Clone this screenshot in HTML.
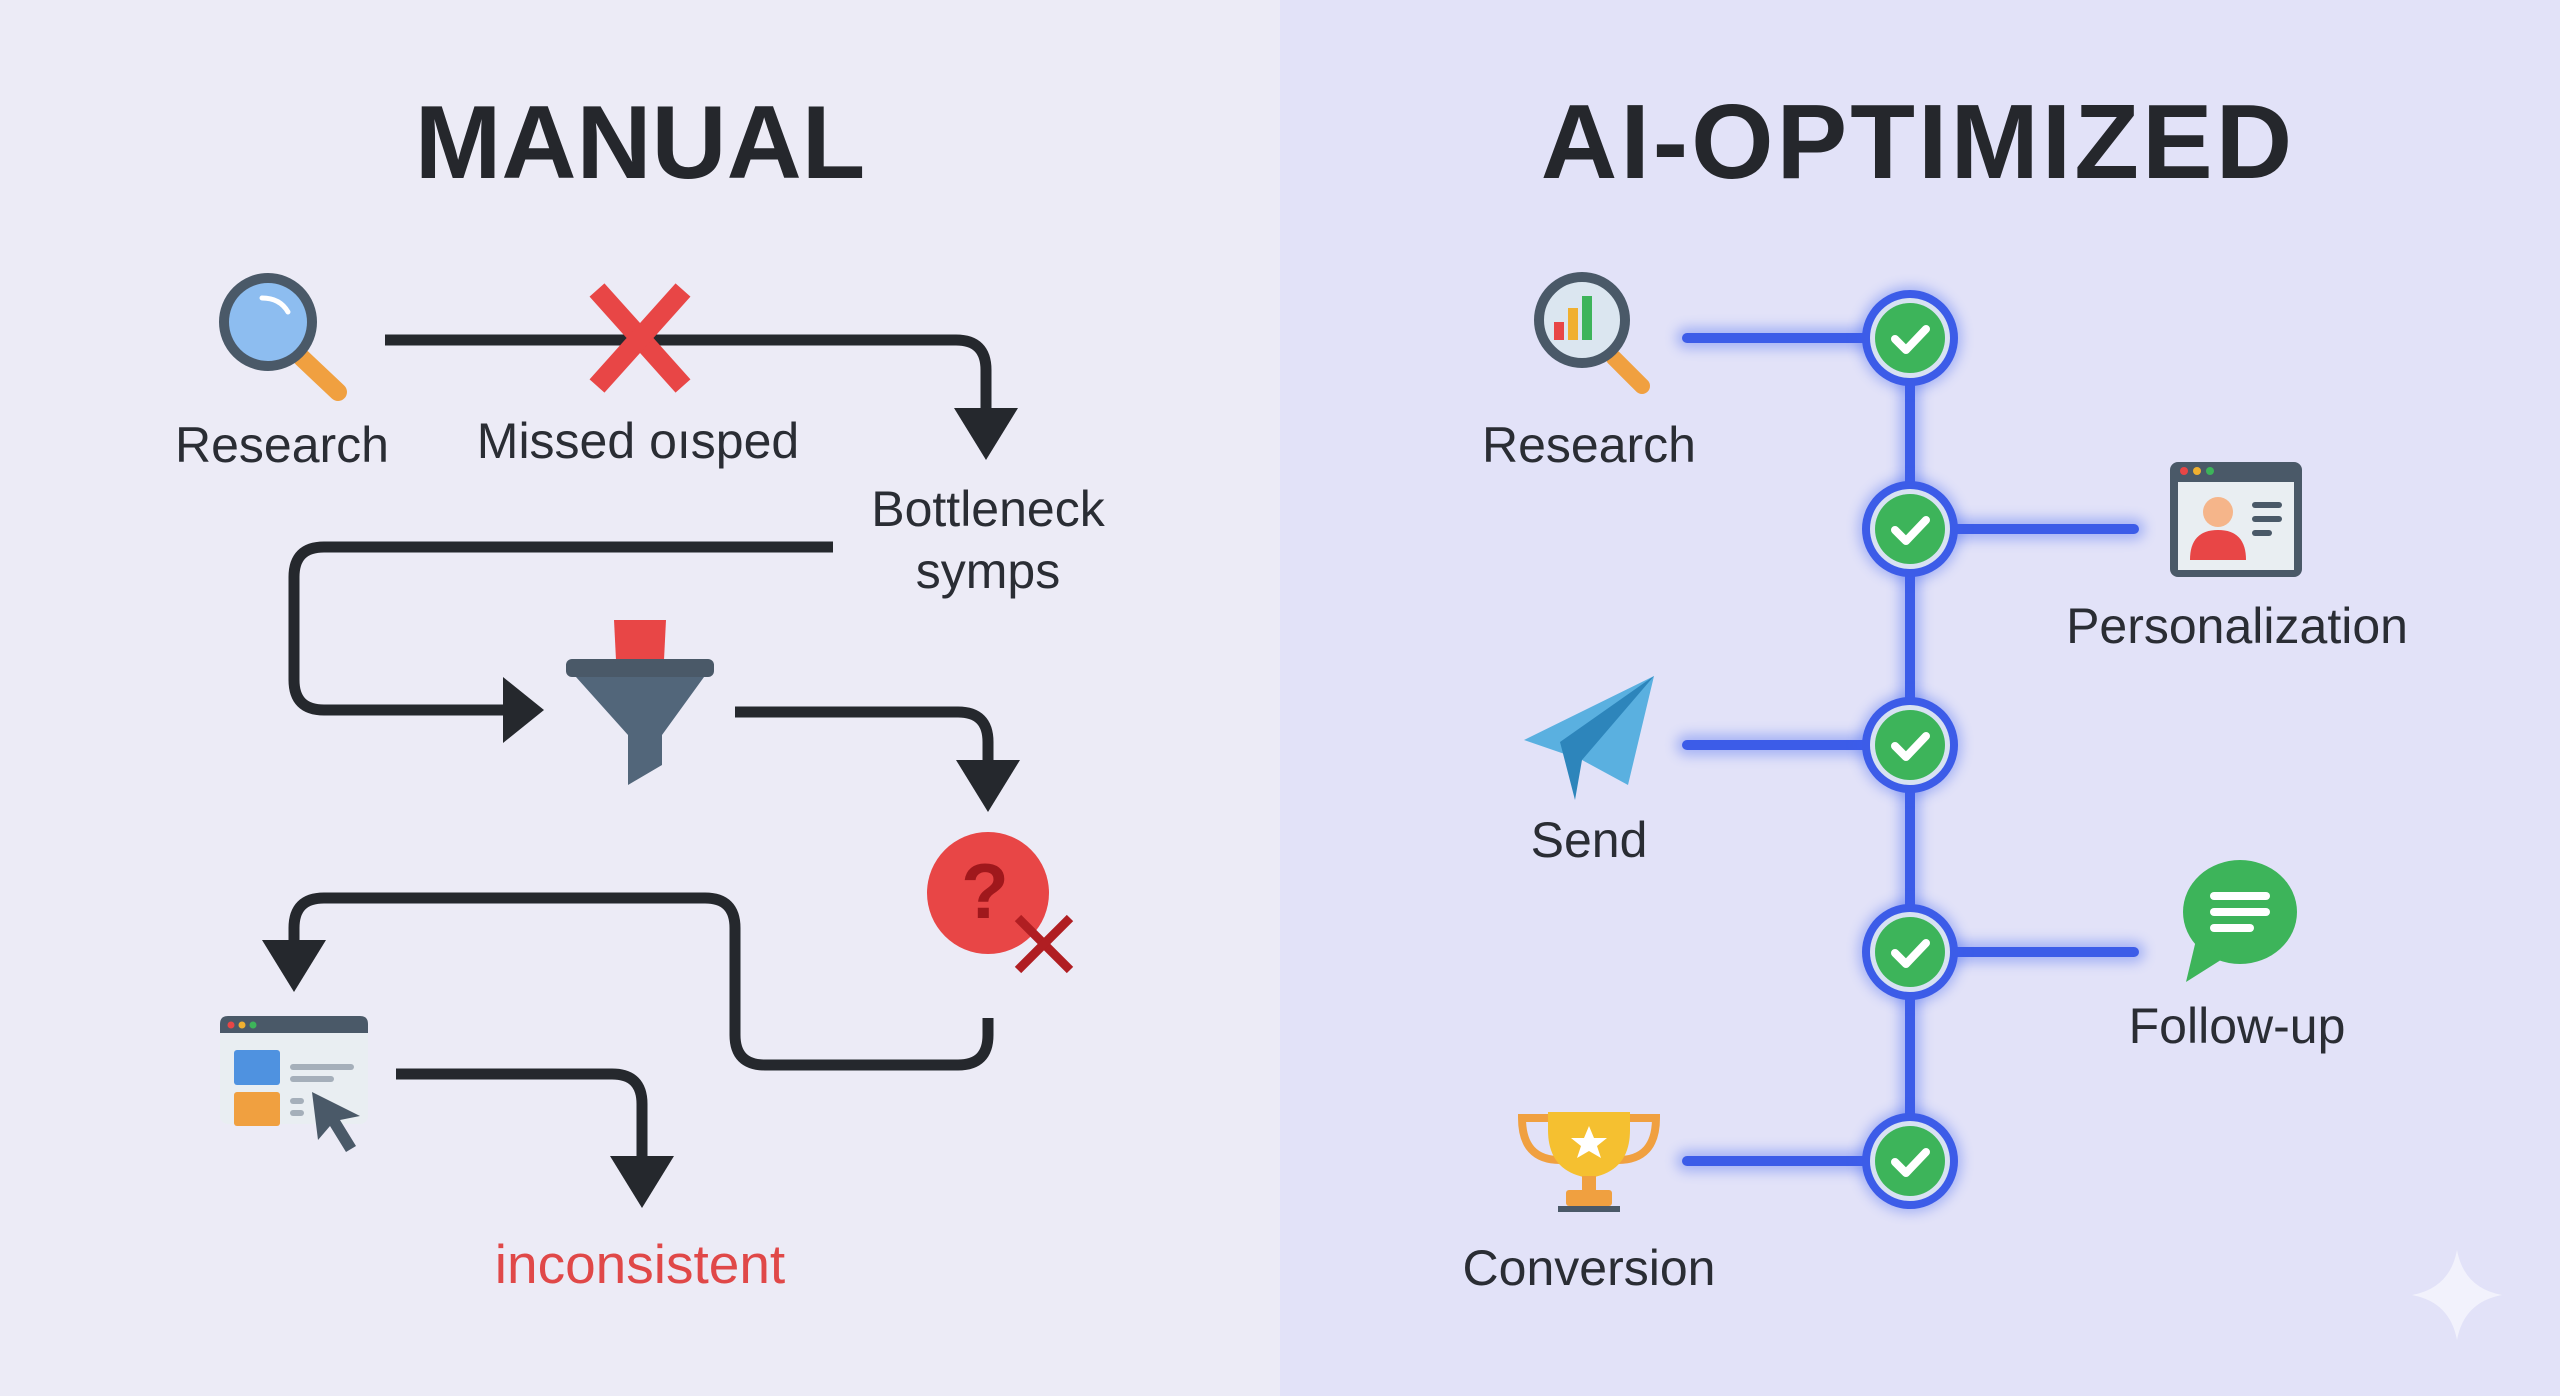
<!DOCTYPE html>
<html><head><meta charset="utf-8"><style>
html,body{margin:0;padding:0;width:2560px;height:1396px;overflow:hidden;background:#ecebf6}
svg{display:block}
text{font-family:"Liberation Sans",sans-serif}
</style></head><body>
<svg width="2560" height="1396" viewBox="0 0 2560 1396" xmlns="http://www.w3.org/2000/svg">
<defs>
<filter id="glow" x="-20%" y="-20%" width="140%" height="140%"><feGaussianBlur stdDeviation="6"/></filter>
<g id="arrD"><polygon points="-32,0 32,0 0,52" fill="#25282d"/></g>
<g id="chk">
 <circle r="52" fill="#3a5ff0" opacity="0.35" filter="url(#glow)"/>
 <circle r="48" fill="#3c5ce8"/>
 <circle r="40" fill="#d8e2f2"/>
 <circle r="35" fill="#3db45a"/>
 <polyline points="-15,1 -4,12 16,-9" fill="none" stroke="#fff" stroke-width="8" stroke-linecap="round" stroke-linejoin="round"/>
</g>
</defs>
<rect x="0" y="0" width="1280" height="1396" fill="#ecebf6"/>
<rect x="1280" y="0" width="1280" height="1396" fill="#e2e2f8"/>

<!-- titles -->
<text x="640" y="178" font-size="104" font-weight="bold" fill="#25272c" text-anchor="middle">MANUAL</text>
<text x="1918" y="178" font-size="106" font-weight="bold" fill="#25272c" text-anchor="middle" letter-spacing="3">AI-OPTIMIZED</text>

<!-- LEFT -->
<g stroke="#25282d" stroke-width="11" fill="none">
 <path d="M385 340 H956 Q986 340 986 370 V412"/>
 <path d="M833 547 H324 Q294 547 294 577 V680 Q294 710 324 710 H505"/>
 <path d="M735 712 H958 Q988 712 988 742 V760"/>
 <path d="M988 1018 V1035 Q988 1065 958 1065 H765 Q735 1065 735 1035 V928 Q735 898 705 898 H324 Q294 898 294 928 V942"/>
 <path d="M396 1074 H612 Q642 1074 642 1104 V1158"/>
</g>
<use href="#arrD" x="986" y="408"/>
<polygon points="503,677 544,710 503,743" fill="#25282d"/>
<use href="#arrD" x="988" y="760"/>
<use href="#arrD" x="294" y="940"/>
<use href="#arrD" x="642" y="1156"/>

<!-- magnifier -->
<line x1="302" y1="358" x2="338" y2="392" stroke="#f0a040" stroke-width="18" stroke-linecap="round"/>
<circle cx="268" cy="322" r="44" fill="#8dbdf0" stroke="#4a5968" stroke-width="10"/>
<path d="M262 298 Q280 298 288 312" stroke="#fff" stroke-width="5" fill="none" stroke-linecap="round"/>
<text x="282" y="462" font-size="50" fill="#2a2d34" text-anchor="middle">Research</text>

<!-- red X -->
<g stroke="#e84646" stroke-width="20">
 <line x1="597" y1="290" x2="683" y2="386"/><line x1="683" y1="290" x2="597" y2="386"/>
</g>
<text x="638" y="458" font-size="50" fill="#2a2d34" text-anchor="middle">Missed oısped</text>
<text x="988" y="526" font-size="50" fill="#2a2d34" text-anchor="middle">Bottleneck</text>
<text x="988" y="588" font-size="50" fill="#2a2d34" text-anchor="middle">symps</text>

<!-- funnel -->
<polygon points="614,620 666,620 664,660 616,660" fill="#e84646"/>
<rect x="566" y="659" width="148" height="18" rx="6" fill="#4a5968"/>
<polygon points="576,677 704,677 662,735 662,765 628,785 628,735" fill="#52667a"/>

<!-- question -->
<circle cx="988" cy="893" r="61" fill="#e84646"/>
<text x="985" y="918" font-size="78" font-weight="bold" fill="#a0181c" text-anchor="middle">?</text>
<g stroke="#b01e22" stroke-width="9"><line x1="1018" y1="918" x2="1070" y2="970"/><line x1="1070" y1="918" x2="1018" y2="970"/></g>

<!-- browser -->
<rect x="220" y="1016" width="148" height="108" rx="8" fill="#e9eef2"/>
<path d="M220 1024 Q220 1016 228 1016 H360 Q368 1016 368 1024 V1033 H220 Z" fill="#4a5968"/>
<circle cx="231" cy="1025" r="3.5" fill="#e84646"/><circle cx="242" cy="1025" r="3.5" fill="#f0b030"/><circle cx="253" cy="1025" r="3.5" fill="#3db45a"/>
<rect x="234" y="1050" width="46" height="35" rx="3" fill="#4f92e0"/>
<rect x="234" y="1092" width="46" height="34" rx="3" fill="#f0a040"/>
<rect x="290" y="1064" width="64" height="6" rx="3" fill="#a5afba"/>
<rect x="290" y="1076" width="44" height="6" rx="3" fill="#a5afba"/>
<rect x="290" y="1098" width="14" height="6" rx="3" fill="#a5afba"/>
<rect x="290" y="1110" width="14" height="6" rx="3" fill="#a5afba"/>
<polygon points="312,1092 360,1116 340,1120 356,1146 346,1152 330,1126 318,1140" fill="#4a5968"/>
<text x="640" y="1283" font-size="55" fill="#e04848" text-anchor="middle">inconsistent</text>

<!-- RIGHT -->
<g stroke="#3a5ff0" stroke-width="22" opacity="0.35" filter="url(#glow)" fill="none" stroke-linecap="round">
 <line x1="1910" y1="338" x2="1910" y2="1161"/>
 <line x1="1687" y1="338" x2="1910" y2="338"/><line x1="1910" y1="529" x2="2134" y2="529"/>
 <line x1="1687" y1="745" x2="1910" y2="745"/><line x1="1910" y1="952" x2="2134" y2="952"/>
 <line x1="1687" y1="1161" x2="1910" y2="1161"/>
</g>
<g stroke="#3c5ce8" stroke-width="10" fill="none" stroke-linecap="round">
 <line x1="1910" y1="338" x2="1910" y2="1161"/>
 <line x1="1687" y1="338" x2="1910" y2="338"/><line x1="1910" y1="529" x2="2134" y2="529"/>
 <line x1="1687" y1="745" x2="1910" y2="745"/><line x1="1910" y1="952" x2="2134" y2="952"/>
 <line x1="1687" y1="1161" x2="1910" y2="1161"/>
</g>
<use href="#chk" x="1910" y="338"/><use href="#chk" x="1910" y="529"/><use href="#chk" x="1910" y="745"/>
<use href="#chk" x="1910" y="952"/><use href="#chk" x="1910" y="1161"/>

<!-- research icon -->
<line x1="1614" y1="358" x2="1642" y2="386" stroke="#f0a040" stroke-width="16" stroke-linecap="round"/>
<circle cx="1582" cy="320" r="43" fill="#dbe6f0" stroke="#4a5968" stroke-width="10"/>
<rect x="1554" y="322" width="10" height="18" fill="#e84646"/>
<rect x="1568" y="308" width="10" height="32" fill="#f0b030"/>
<rect x="1582" y="296" width="10" height="44" fill="#3db45a"/>
<text x="1589" y="462" font-size="50" fill="#2a2d34" text-anchor="middle">Research</text>

<!-- personalization -->
<rect x="2170" y="462" width="132" height="115" rx="8" fill="#4a5968"/>
<rect x="2178" y="482" width="116" height="88" fill="#e9eef2"/>
<circle cx="2184" cy="471" r="4" fill="#e84646"/><circle cx="2197" cy="471" r="4" fill="#f0b030"/><circle cx="2210" cy="471" r="4" fill="#3db45a"/>
<circle cx="2218" cy="512" r="15" fill="#f5b58a"/>
<path d="M2190 560 Q2190 530 2218 530 Q2246 530 2246 560 Z" fill="#e84646"/>
<rect x="2252" y="502" width="30" height="6" rx="3" fill="#4a5968"/>
<rect x="2252" y="516" width="30" height="6" rx="3" fill="#4a5968"/>
<rect x="2252" y="530" width="20" height="6" rx="3" fill="#4a5968"/>
<text x="2237" y="643" font-size="50" fill="#2a2d34" text-anchor="middle">Personalization</text>

<!-- send -->
<polygon points="1524,740 1654,676 1628,785 1582,760" fill="#5ab0e0"/>
<polygon points="1560,742 1654,676 1582,760 1575,800" fill="#2d85bb"/>
<text x="1589" y="857" font-size="50" fill="#2a2d34" text-anchor="middle">Send</text>

<!-- follow-up -->
<ellipse cx="2240" cy="912" rx="57" ry="52" fill="#3db45a"/>
<polygon points="2196,940 2186,982 2224,958" fill="#3db45a"/>
<g stroke="#fff" stroke-width="8" stroke-linecap="round"><line x1="2214" y1="896" x2="2266" y2="896"/><line x1="2214" y1="912" x2="2266" y2="912"/><line x1="2214" y1="928" x2="2250" y2="928"/></g>
<text x="2237" y="1043" font-size="50" fill="#2a2d34" text-anchor="middle">Follow-up</text>

<!-- trophy -->
<path d="M1550 1118 H1522 Q1522 1160 1560 1160" fill="none" stroke="#f0a040" stroke-width="8"/>
<path d="M1628 1118 H1656 Q1656 1160 1618 1160" fill="none" stroke="#f0a040" stroke-width="8"/>
<path d="M1548 1112 H1630 V1130 Q1630 1172 1589 1178 Q1548 1172 1548 1130 Z" fill="#f5c030"/>
<rect x="1582" y="1176" width="14" height="16" fill="#f0a040"/>
<rect x="1566" y="1190" width="46" height="16" rx="3" fill="#f0a040"/>
<rect x="1558" y="1206" width="62" height="6" fill="#4a5968"/>
<polygon points="1589,1126 1594,1138 1607,1138 1597,1146 1601,1158 1589,1151 1577,1158 1581,1146 1571,1138 1584,1138" fill="#fff"/>
<text x="1589" y="1285" font-size="50" fill="#2a2d34" text-anchor="middle">Conversion</text>

<!-- sparkle -->
<path d="M2457 1250 Q2464 1288 2502 1295 Q2464 1302 2457 1340 Q2450 1302 2412 1295 Q2450 1288 2457 1250 Z" fill="#f2f2fc"/>
</svg>
</body></html>
